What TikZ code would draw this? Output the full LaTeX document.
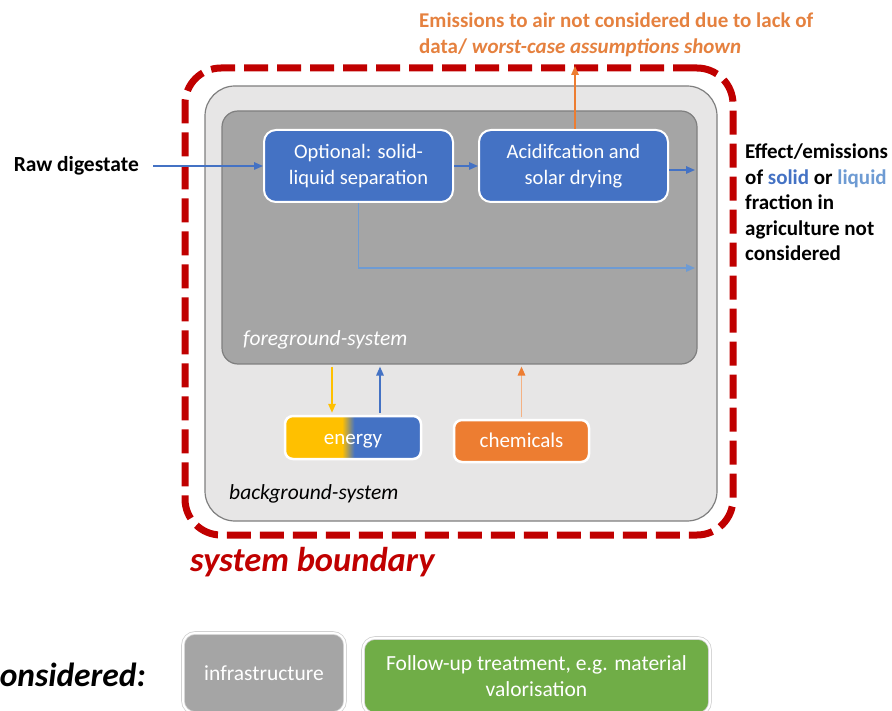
\documentclass[tikz,border=0pt]{standalone}
\usepackage{fontspec}
\setmainfont{Carlito}
\usetikzlibrary{arrows.meta}

\definecolor{bluec}{HTML}{4472C4}
\definecolor{liquidc}{HTML}{6E9BD3}
\definecolor{orangec}{HTML}{ED7D31}
\definecolor{orangetxt}{HTML}{E5813F}
\definecolor{paleorange}{HTML}{F4B183}
\definecolor{yellowc}{HTML}{FFC000}
\definecolor{greenc}{HTML}{70AD47}
\definecolor{redc}{HTML}{C00000}
\definecolor{bggrey}{HTML}{E7E6E6}
\definecolor{fggrey}{HTML}{A5A5A5}
\definecolor{edgegrey}{HTML}{7F7F7F}

% energy box: yellow on the left, blue on the right, short blend in the middle
\pgfdeclarehorizontalshading{energyshade}{100bp}{color(0bp)=(yellowc); color(46bp)=(yellowc); color(50.5bp)=(bluec); color(100bp)=(bluec)}

\begin{document}
\begin{tikzpicture}[x=1pt,y=-1pt,
  boundarybox/.style={draw=redc, line width=7pt, dash pattern=on 24pt off 9pt,
    rounded corners=36pt, inner sep=0pt},
  bgbox/.style={fill=bggrey, draw=edgegrey, line width=1.2pt, rounded corners=30pt, inner sep=0pt},
  fgbox/.style={fill=fggrey, draw=edgegrey, line width=1.2pt, rounded corners=16pt, inner sep=0pt},
  procbox/.style={fill=bluec, draw=white, line width=2pt, rounded corners=12pt,
    text=white, align=center, font=\fontsize{20.5}{26}\selectfont,
    minimum width=189pt, minimum height=72pt, inner sep=0pt},
  smallbox/.style={draw=white, line width=2.5pt, rounded corners=8pt, text=white,
    font=\fontsize{21}{24}\selectfont, inner sep=0pt, text height=1.55em, text depth=0.2em},
  legendbox/.style={draw=gray!35, double=white, double distance=2pt, line width=0.8pt,
    rounded corners=12pt, text=white, align=center,
    font=\fontsize{21.5}{26}\selectfont, inner sep=0pt},
  label/.style={inner sep=0pt, font=\fontsize{21}{24}\selectfont},
  flow/.style={draw=bluec, line width=1.5pt, -{Triangle[length=9pt,width=7.5pt]}},
  liqflow/.style={draw=liquidc, line width=1.5pt, -{Triangle[length=9pt,width=7.5pt]}},
  yflow/.style={draw=yellowc, line width=1.5pt, -{Triangle[length=9pt,width=7.5pt]}},
  oflow/.style={draw=orangec, line width=1.5pt, -{Triangle[length=9pt,width=7.5pt]}},
  paleflow/.style={draw=paleorange, line width=1.5pt, -{Triangle[length=9pt,width=7.5pt,color=orangec]}},
]
\useasboundingbox (0,0) rectangle (892,711);
\clip (0,0) rectangle (892,711);

% system boundary and the two nested systems
\node[boundarybox, minimum width=548pt, minimum height=467pt] (boundary) at (459,301.5) {};
\node[bgbox, minimum width=512pt, minimum height=435pt] (bg) at (461,303.5) {};
\node[fgbox, minimum width=475pt, minimum height=253pt] (fg) at (459.5,237.5) {};

% process steps
\node[procbox] (sep) at (358.5,166) {Optional: solid-\\liquid separation};
\node[procbox] (acid) at (573.5,166) {Acidifcation and\\solar drying};

% background inputs
\node[smallbox, shade, shading=energyshade, minimum width=136pt, minimum height=43pt] (energy) at (353,437.5) {energy};
\node[smallbox, fill=orangec, minimum width=135pt, minimum height=42pt] (chem) at (521.5,441) {chemicals};

% labels
\node[label, anchor=east, font=\bfseries\fontsize{21.5}{24}\selectfont] (raw) at (139,166) {Raw digestate};
\node[label, anchor=west, text=white, font=\itshape\fontsize{21.5}{24}\selectfont] (fglabel) at (243,340) {foreground-system};
\node[label, anchor=west, font=\itshape\fontsize{21.5}{24}\selectfont] (bglabel) at (229,494) {background-system};
\node[label, anchor=west, text=redc, font=\bfseries\itshape\fontsize{34.5}{40}\selectfont] (sblabel) at (190,562) {system boundary};
\node[label, anchor=north west, align=left, text=orangetxt, font=\bfseries\fontsize{21}{26}\selectfont] (emis) at (419,13)
  {Emissions to air not considered due to lack of\\data/ \textit{worst-case assumptions shown}};
\node[label, anchor=north west, align=left, font=\bfseries\fontsize{21}{25.5}\selectfont] (effect) at (745,144)
  {Effect/emissions\\of \textcolor{bluec}{solid} or \textcolor{liquidc}{liquid}\\fraction in\\agriculture not\\considered};

% items outside the system
\node[label, anchor=east, font=\bfseries\itshape\fontsize{33.5}{38}\selectfont] (notlabel) at (146,675) {considered:};
\node[legendbox, fill=fggrey, minimum width=162pt, minimum height=80pt] (infra) at (264,673) {infrastructure};
\node[legendbox, fill=greenc, minimum width=347pt, minimum height=76pt] (follow) at (536.5,676) {Follow-up treatment, e.g. material\\valorisation};

% connector end points
\coordinate (out1) at (695,170);
\coordinate (out2) at (695,268);
\coordinate (air) at (575,66);
\coordinate (ey) at (332,0);
\coordinate (eb) at (380,0);

% flows
\draw[flow] ([xshift=14pt]raw.east) -- (sep.west);
\draw[flow] (sep.east) -- (acid.west);
\draw[flow] (acid.east |- out1) -- (out1);
\draw[liqflow] (sep.south) |- (out2);
\draw[oflow] (acid.north -| air) -- (air);
\draw[yflow, shorten <=2pt, shorten >=2pt] (ey |- fg.south) -- (ey |- energy.north);
\draw[flow, shorten <=2pt, shorten >=2pt] (eb |- energy.north) -- (eb |- fg.south);
\draw[paleflow, shorten <=2pt, shorten >=2pt] (chem.north) -- (chem.north |- fg.south);
\end{tikzpicture}
\end{document}
